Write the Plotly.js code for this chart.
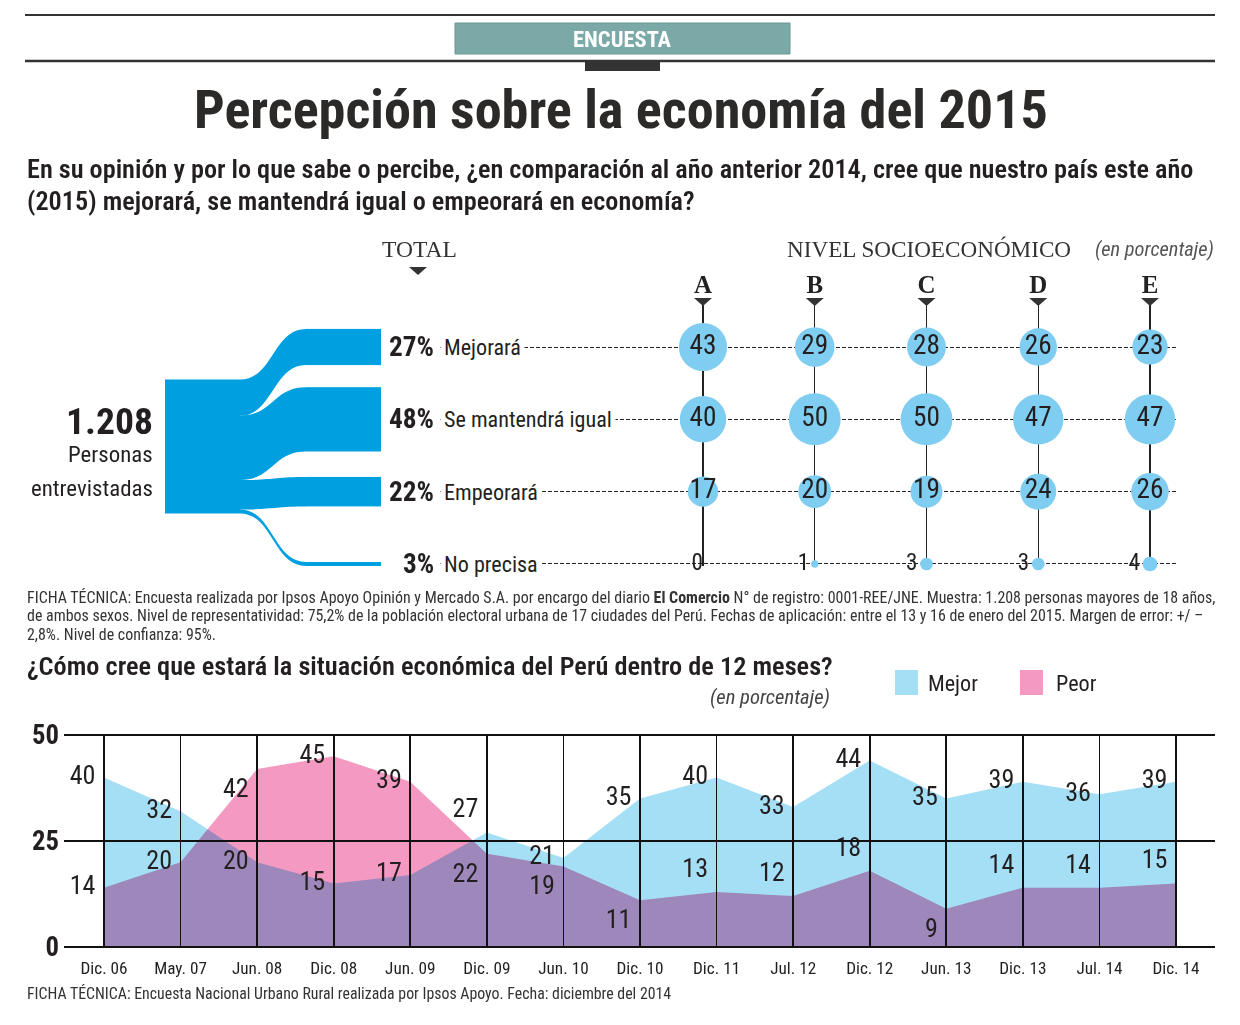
<!DOCTYPE html>
<html><head><meta charset="utf-8">
<script src="https://cdn.plot.ly/plotly-3.0.1.min.js"></script>
<style>
html,body{margin:0;padding:0;background:#fff;}
#chart{width:1240px;height:1025px;}
.js-fill{mix-blend-mode:multiply;}
</style></head><body><div id="chart"></div>
<script>
// ---------------- data ----------------
const interviewed = "1.208";
const answers = ["Mejorará", "Se mantendrá igual", "Empeorará", "No precisa"];
const totalPct = [27, 48, 22, 3];
const levels = ["A", "B", "C", "D", "E"];
const levelA = [43, 40, 17, 0];
const levelB = [29, 50, 20, 1];
const levelC = [28, 50, 19, 3];
const levelD = [26, 47, 24, 3];
const levelE = [23, 47, 26, 4];
const periods = ["Dic. 06","May. 07","Jun. 08","Dic. 08","Jun. 09","Dic. 09","Jun. 10","Dic. 10","Dic. 11","Jul. 12","Dic. 12","Jun. 13","Dic. 13","Jul. 14","Dic. 14"];
const mejor = [40, 32, 20, 15, 17, 27, 21, 35, 40, 33, 44, 35, 39, 36, 39];
const peor  = [14, 20, 42, 45, 39, 22, 19, 11, 13, 12, 18, 9, 14, 14, 15];
const yTicks = [0, 25, 50];

// ---------------- texts ----------------
const titleText = "Percepción sobre la economía del 2015";
const q1a = "En su opinión y por lo que sabe o percibe, ¿en comparación al año anterior 2014, cree que nuestro país este año";
const q1b = "(2015) mejorará, se mantendrá igual o empeorará en economía?";
const f1 = "FICHA TÉCNICA: Encuesta realizada por Ipsos Apoyo Opinión y Mercado S.A. por encargo del diario <b>El Comercio</b> N° de registro: 0001-REE/JNE. Muestra: 1.208 personas mayores de 18 años,";
const f2 = "de ambos sexos. Nivel de representatividad: 75,2% de la población electoral urbana de 17 ciudades del Perú. Fechas de aplicación: entre el 13 y 16 de enero del 2015. Margen de error: +/ –";
const f3 = "2,8%. Nivel de confianza: 95%.";
const q2 = "¿Cómo cree que estará la situación económica del Perú dentro de 12 meses?";
const fb = "FICHA TÉCNICA: Encuesta Nacional Urbano Rural realizada por Ipsos Apoyo. Fecha: diciembre del 2014";

// ---------------- style ----------------
const W = 1240, H = 1025;
const P = x => x / W, Q = y => 1 - y / H;
const FONT = "'Liberation Sans Narrow', 'Roboto Condensed', 'DejaVu Sans Condensed', Roboto, sans-serif";
const SERIF = "'Liberation Serif', 'DejaVu Serif', serif";
const DARK = "#231f20";
const BLUE = "rgb(0,160,224)";
const BUBBLE = "rgb(127,205,241)";
const AREA_BLUE = "rgb(165,223,245)";
const AREA_PINK = "rgb(244,154,194)";

const ctx = document.createElement('canvas').getContext('2d');
function fit(text, target, o) {
  o = o || {};
  ctx.font = `${o.style || 'normal'} ${o.weight || 'normal'} 100px ${o.family || FONT}`;
  const w = ctx.measureText(text.replace(/<[^>]+>/g, '')).width;
  return 100 * target / w;
}
const F = {
  title: fit(titleText, 854, {weight: 'bold'}),
  q1: fit(q1a, 1167, {weight: 600}),
  enc: fit("ENCUESTA", 98, {weight: 'bold'}),
  big: fit(interviewed, 87, {weight: 'bold'}),
  pers: fit("entrevistadas", 122),
  total: fit("TOTAL", 75, {family: SERIF}),
  nivel: fit("NIVEL SOCIOECONÓMICO", 285, {family: SERIF}),
  enp: fit("(en porcentaje)", 119, {style: 'italic'}),
  pct: fit("27%", 45, {weight: 'bold'}),
  name: fit("Se mantendrá igual", 168),
  bub: 1.12 * fit("43", 24),
  letter: fit("A", 18, {family: SERIF, weight: 'bold'}),
  ficha: fit(f1, 1189),
  q2: fit(q2, 806, {weight: 600}),
  enp2: fit("(en porcentaje)", 120, {style: 'italic'}),
  leg: fit("Mejor", 50),
  xt: 1.15 * fit("Dic. 06", 41),
  yt: fit("50", 27, {weight: 'bold'}),
  val: 1.12 * fit("40", 23),
  fb: fit(fb, 645)
};

// layout constants (pixels)
const COL0 = 703, COLSTEP = 111.75;      // bubble columns
const ROW0 = 347, ROWSTEP = 72.33;       // bubble rows
const GRID_L = 440, GRID_R = 1177, GRID_T = 305, GRID_B = 565.5;
const SK_T = 320, SK_B = 580, SK_L = 165, SK_R = 381, SK_TH = 75;
const srcCenter = 446.5;
const AX_L = 64, AX_R = 1215, AX_T = 735, AX_B = 947, CAT0 = 104, CATSTEP = 76.571;
const YPAD = 0.3; // keeps the 0 and 50 lines inside the axis range

// ---------------- traces ----------------
const traces = [];

// Sankey (total distribution)
const skH = SK_B - SK_T, skW = SK_R - SK_L;
traces.push({
  type: 'sankey', arrangement: 'fixed', hoverinfo: 'none',
  domain: {x: [P(SK_L), P(SK_R)], y: [Q(SK_B), Q(SK_T)]},
  node: {
    label: ['', '', '', '', ''],
    x: [SK_TH / 2 / skW].concat(answers.map(() => 1 - SK_TH / 2 / skW)),
    y: [(srcCenter - SK_T) / skH].concat(answers.map((a, i) => (ROW0 + i * ROWSTEP - SK_T) / skH)),
    thickness: SK_TH, pad: 42, color: BLUE, line: {width: 0}, hoverinfo: 'none'
  },
  link: {
    source: answers.map(() => 0), target: answers.map((a, i) => i + 1),
    value: totalPct, color: BLUE, hoverinfo: 'none'
  }
});

// Bubbles by socioeconomic level
const levelVals = [levelA, levelB, levelC, levelD, levelE];
const bx = [], by = [], bs = [], bt = [], bp = [], bf = [];
levels.forEach((L, i) => answers.forEach((a, j) => {
  const v = levelVals[i][j];
  bx.push(L); by.push(a); bs.push(v); bt.push(String(v));
  bp.push(j === answers.length - 1 ? 'middle left' : 'middle center');
  bf.push(j === answers.length - 1 ? F.bub * 0.85 : F.bub);
}));
traces.push({
  type: 'scatter', mode: 'markers+text', x: bx, y: by, xaxis: 'x', yaxis: 'y',
  marker: {size: bs, sizemode: 'area', sizeref: 1 / 27, color: BUBBLE, opacity: 1, line: {width: 0}},
  text: bt, textposition: bp, textfont: {family: FONT, size: bf, color: DARK},
  cliponaxis: false, hoverinfo: 'skip'
});

// Area chart
traces.push({type: 'scatter', mode: 'lines', x: periods, y: mejor, xaxis: 'x2', yaxis: 'y2',
  fill: 'tozeroy', fillcolor: AREA_BLUE, line: {width: 0, color: AREA_BLUE}, cliponaxis: false, hoverinfo: 'skip'});
traces.push({type: 'scatter', mode: 'lines', x: periods, y: peor, xaxis: 'x2', yaxis: 'y2',
  fill: 'tozeroy', fillcolor: AREA_PINK, line: {width: 0, color: AREA_PINK}, cliponaxis: false, hoverinfo: 'skip'});

const mejorPos = periods.map((p, i) => i === 5 ? 'top left' : 'middle left');
const peorPos = ['middle left','middle left','bottom left','middle left','middle left','bottom left','bottom left','bottom left','top left','top left','top left','bottom left','top left','top left','top left'];
[[mejor, mejorPos], [peor, peorPos]].forEach(([vals, pos]) => {
  traces.push({type: 'scatter', mode: 'markers+text', x: periods, y: vals, xaxis: 'x2', yaxis: 'y2',
    marker: {size: 12, opacity: 0}, text: vals.map(String), textposition: pos,
    textfont: {family: FONT, size: F.val, color: DARK}, cliponaxis: false, hoverinfo: 'skip'});
});

// ---------------- shapes ----------------
const shapes = [
  {type: 'line', xref: 'paper', yref: 'paper', x0: P(25), x1: P(1215), y0: Q(15), y1: Q(15), line: {color: '#333', width: 2}},
  {type: 'rect', xref: 'paper', yref: 'paper', x0: P(455), x1: P(790), y0: Q(54), y1: Q(23), fillcolor: '#7aa9a7', line: {color: '#6a9896', width: 1}},
  {type: 'line', xref: 'paper', yref: 'paper', x0: P(25), x1: P(1215), y0: Q(61), y1: Q(61), line: {color: '#333', width: 2.5}},
  {type: 'rect', xref: 'paper', yref: 'paper', x0: P(585), x1: P(660), y0: Q(71), y1: Q(61), fillcolor: '#333', line: {width: 0}},
  // legend swatches
  {type: 'rect', xref: 'paper', yref: 'paper', x0: P(895), x1: P(918), y0: Q(695), y1: Q(670), fillcolor: AREA_BLUE, line: {width: 0}},
  {type: 'rect', xref: 'paper', yref: 'paper', x0: P(1020), x1: P(1043), y0: Q(695), y1: Q(670), fillcolor: AREA_PINK, line: {width: 0}}
];
const tri = (xref, xanchor, ypx) => ({type: 'path', xref: xref, xsizemode: 'pixel', xanchor: xanchor,
  yref: 'paper', ysizemode: 'pixel', yanchor: Q(ypx), path: 'M-9,4L9,4L0,-4Z', fillcolor: '#333', line: {width: 0}});
shapes.push(tri('paper', P(418), 271));
levels.forEach((L, i) => shapes.push(tri('x', i, 302)));

// ---------------- annotations ----------------
const ann = [];
const A = (text, x, y, size, o) => {
  o = o || {};
  ann.push(Object.assign({xref: 'paper', yref: 'paper', x: P(x), y: Q(y), text: text, showarrow: false,
    xanchor: o.xa || 'left', yanchor: 'middle', align: o.xa || 'left',
    font: {family: o.family || FONT, size: size, color: o.color || DARK, weight: o.weight || 'normal', style: o.style || 'normal'}}, o.extra || {}));
};
A("ENCUESTA", 622, 39, F.enc, {xa: 'center', color: '#fff', weight: 'bold'});
A(titleText, 621, 110, F.title, {xa: 'center', weight: 'bold', color: '#2b2a29'});
A(q1a, 25, 169, F.q1, {weight: 600});
A(q1b, 25, 201, F.q1, {weight: 600});
A("TOTAL", 420, 249, F.total, {xa: 'center', family: SERIF, color: '#333'});
A("NIVEL SOCIOECONÓMICO", 929, 249, F.nivel, {xa: 'center', family: SERIF, color: '#333'});
A("(en porcentaje)", 1154, 249, F.enp, {xa: 'center', style: 'italic', color: '#555'});
A(interviewed, 155, 421, F.big, {xa: 'right', weight: 'bold'});
A("Personas", 155, 455, F.pers, {xa: 'right'});
A("entrevistadas", 155, 488, F.pers, {xa: 'right'});
answers.forEach((a, i) => {
  ann.push({xref: 'paper', yref: 'y', x: P(436), y: a, text: '<b>' + totalPct[i] + '%</b>', showarrow: false,
    xanchor: 'right', yanchor: 'middle', font: {family: FONT, size: F.pct, color: DARK}});
  ann.push({xref: 'paper', yref: 'y', x: P(GRID_L), y: a, text: a, showarrow: false,
    xanchor: 'left', yanchor: 'middle', bgcolor: '#fff', borderpad: 3, font: {family: FONT, size: F.name, color: DARK}});
});
A(f1, 25, 597, F.ficha, {color: '#333'});
A(f2, 25, 615.5, F.ficha, {color: '#333'});
A(f3, 25, 634, F.ficha, {color: '#333'});
A(q2, 25, 666, F.q2, {weight: 600});
A("(en porcentaje)", 832, 697, F.enp2, {xa: 'right', style: 'italic', color: '#444'});
A("Mejor", 926, 683, F.leg);
A("Peor", 1054, 683, F.leg);
A(fb, 25, 993, F.fb, {color: '#333'});

// ---------------- layout ----------------
const pxPerUnit = (AX_B - AX_T) / 50;
const layout = {
  width: W, height: H, margin: {l: 0, r: 0, t: 0, b: 0},
  paper_bgcolor: '#fff', plot_bgcolor: 'rgba(0,0,0,0)', showlegend: false,
  font: {family: FONT, color: DARK},
  xaxis: {type: 'category', categoryorder: 'array', categoryarray: levels, anchor: 'y',
    domain: [P(GRID_L), P(GRID_R)], range: [(GRID_L - COL0) / COLSTEP, (GRID_R - COL0) / COLSTEP],
    side: 'top', showgrid: true, gridcolor: '#222', gridwidth: 1.2, ticks: '', showline: false, zeroline: false,
    ticklabelstandoff: 6, tickfont: {family: SERIF, size: F.letter, weight: 'bold', color: '#222'}},
  yaxis: {type: 'category', categoryorder: 'array', categoryarray: answers, anchor: 'x',
    domain: [Q(GRID_B), Q(GRID_T)], range: [3 + (GRID_B - (ROW0 + 3 * ROWSTEP)) / ROWSTEP, (GRID_T - ROW0) / ROWSTEP],
    showgrid: true, gridcolor: '#222', gridwidth: 1, griddash: '4px,2px', showticklabels: false, ticks: '', zeroline: false, showline: false},
  xaxis2: {type: 'category', categoryorder: 'array', categoryarray: periods, anchor: 'y2',
    domain: [P(AX_L), P(AX_R)], range: [(AX_L - CAT0) / CATSTEP, (AX_R - CAT0) / CATSTEP],
    ticks: 'inside', ticklen: AX_B - AX_T, tickwidth: 1.6, tickcolor: '#111', layer: 'above traces',
    showgrid: false, showline: false, zeroline: false, ticklabelstandoff: 8,
    tickfont: {family: FONT, size: F.xt, color: DARK}},
  yaxis2: {anchor: 'x2', domain: [Q(AX_B + YPAD * pxPerUnit), Q(AX_T - YPAD * pxPerUnit)], range: [-YPAD, 50 + YPAD], tickvals: yTicks,
    ticks: 'inside', ticklen: AX_R - AX_L, tickwidth: 1.6, tickcolor: '#111', layer: 'above traces',
    showgrid: false, showline: false, zeroline: false, ticklabelstandoff: 4,
    tickfont: {family: FONT, size: F.yt, weight: 'bold', color: DARK}},
  shapes: shapes, annotations: ann
};

Plotly.newPlot('chart', traces, layout, {staticPlot: true, displayModeBar: false}).then(gd => {
  // overlap of the two areas is shown by multiplying their colours
  gd.querySelectorAll('.js-fill').forEach(p => {
    p.style.mixBlendMode = 'multiply';
    const g = p.closest('g.trace');
    if (g) g.style.mixBlendMode = 'multiply';
  });
});
</script></body></html>
